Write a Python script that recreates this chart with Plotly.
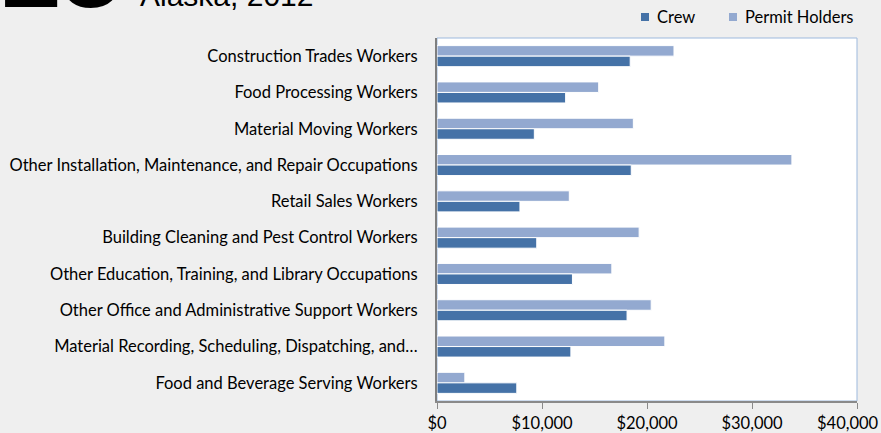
import plotly.graph_objects as go

categories = [
    "Construction Trades Workers",
    "Food Processing Workers",
    "Material Moving Workers",
    "Other Installation, Maintenance, and Repair Occupations",
    "Retail Sales Workers",
    "Building Cleaning and Pest Control Workers",
    "Other Education, Training, and Library Occupations",
    "Other Office and Administrative Support Workers",
    "Material Recording, Scheduling, Dispatching, and…",
    "Food and Beverage Serving Workers",
]
crew = [18400, 12250, 9270, 18500, 7900, 9500, 12900, 18100, 12750, 7600]
permit_holders = [22570, 15400, 18700, 33800, 12600, 19250, 16650, 20400, 21700, 2650]
tick_vals = [0, 10000, 20000, 30000, 40000]
tick_text = ["$0", "$10,000", "$20,000", "$30,000", "$40,000"]
series_names = ["Crew", "Permit Holders"]

CREW_C = "#4572A7"
PERMIT_C = "#93A9D0"
FONT = "Lato"
FS = 16.5

W, H = 881, 433
L, R, T, B = 437, 24, 38, 32
PW, PH = W - L - R, H - T - B


def px(x):
    return (x - L) / PW


def py(y):
    return (H - B - y) / PH


fig = go.Figure()
fig.add_trace(go.Bar(
    y=categories, x=permit_holders, orientation="h", name=series_names[1],
    marker=dict(color=PERMIT_C, line=dict(color="white", width=1)),
))
fig.add_trace(go.Bar(
    y=categories, x=crew, orientation="h", name=series_names[0],
    marker=dict(color=CREW_C, line=dict(color="white", width=1)),
))

shapes = [dict(type="rect", xref="paper", yref="paper", x0=0, x1=1, y0=0, y1=1,
               line=dict(color="#9DB9DD", width=1), layer="below")]
annotations = [
    dict(text="<b>15</b>", xref="paper", yref="paper", x=px(-4), xanchor="left",
         y=py(33), yanchor="bottom", showarrow=False,
         font=dict(family="Liberation Sans", size=112, color="black")),
    dict(text="Alaska, 2012", xref="paper", yref="paper", x=px(138), xanchor="left",
         y=py(14), yanchor="bottom", showarrow=False,
         font=dict(family="Liberation Sans", size=30, color="black")),
    # last tick label pulled inside the page edge, as in the reference
    dict(text=tick_text[-1], xref="paper", yref="paper", x=px(881), xanchor="right",
         y=py(423), yanchor="middle", showarrow=False,
         font=dict(family=FONT, size=FS, color="black")),
]
# manual legend
leg = [(series_names[0], CREW_C, 641), (series_names[1], PERMIT_C, 729)]
for name, col, sx in leg:
    shapes.append(dict(type="rect", xref="paper", yref="paper",
                       x0=px(sx), x1=px(sx + 8), y0=py(21), y1=py(13),
                       fillcolor=col, line=dict(width=0)))
    annotations.append(dict(text=name, xref="paper", yref="paper",
                            x=px(sx + 14), xanchor="left", y=py(17), yanchor="middle",
                            showarrow=False, font=dict(family=FONT, size=FS, color="black")))

fig.update_layout(
    width=W, height=H,
    margin=dict(l=L, r=R, t=T, b=B, autoexpand=False),
    paper_bgcolor="#efefef", plot_bgcolor="white",
    barmode="group", bargap=0.42, bargroupgap=0,
    font=dict(family=FONT, size=FS, color="black"),
    showlegend=False,
    xaxis=dict(range=[0, 40000], tickvals=tick_vals, ticktext=tick_text[:-1] + [""],
               showgrid=False, zeroline=False, showline=True, linecolor="#8a8a8a",
               linewidth=1.5, ticks="outside", ticklen=6, tickcolor="#8a8a8a",
               ticklabeloverflow="allow", automargin=False,
               tickfont=dict(family=FONT, size=FS, color="black")),
    yaxis=dict(autorange="reversed", showgrid=False, zeroline=False, showline=True,
               linecolor="#7f7f7f", linewidth=2, ticks="outside", ticklen=14,
               tickcolor="rgba(0,0,0,0)", automargin=False,
               tickfont=dict(family=FONT, size=FS, color="black")),
    shapes=shapes,
    annotations=annotations,
)

fig.write_html("out.html", config={"displayModeBar": False},
               post_script="document.body.style.margin='0';")
